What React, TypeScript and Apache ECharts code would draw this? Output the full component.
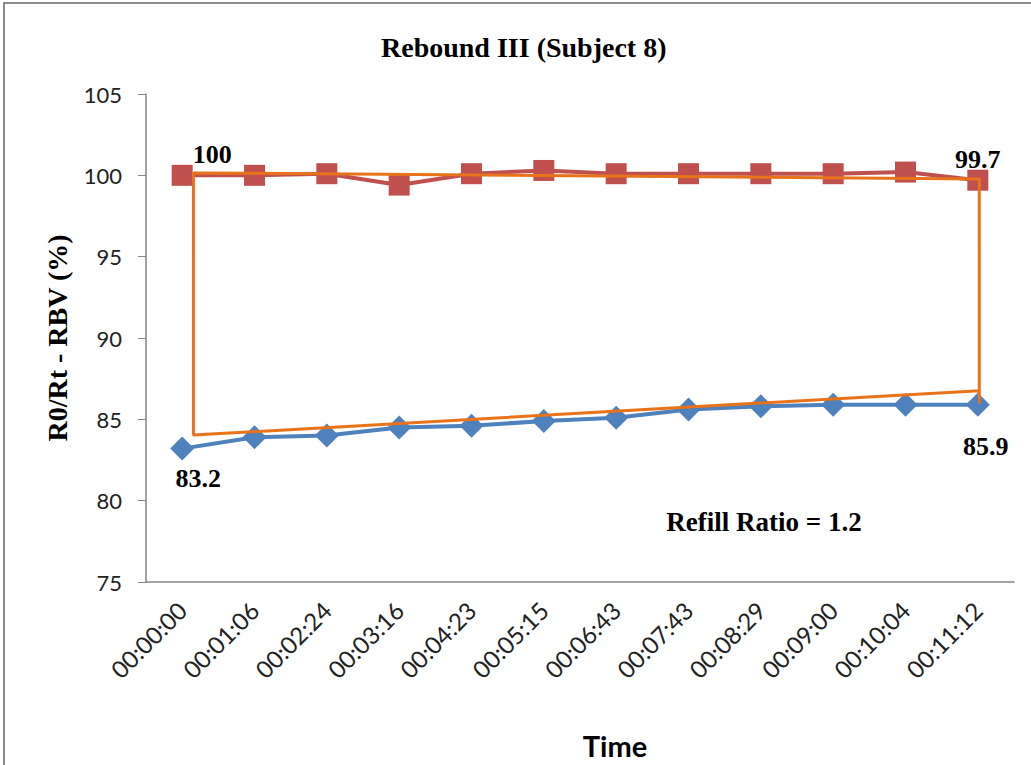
import React, { useEffect, useRef } from "react";
import * as echarts from "echarts";

const categories = [
  "00:00:00", "00:01:06", "00:02:24", "00:03:16", "00:04:23", "00:05:15",
  "00:06:43", "00:07:43", "00:08:29", "00:09:00", "00:10:04", "00:11:12",
];
const redValues = [100, 100, 100.1, 99.4, 100.1, 100.3, 100.1, 100.1, 100.1, 100.1, 100.2, 99.7];
const blueValues = [83.2, 83.9, 84.0, 84.5, 84.6, 84.9, 85.1, 85.6, 85.8, 85.9, 85.9, 85.9];
// hand-drawn orange outline, in [category position, value]
const orangeOutline: [number, number][] = [
  [11.02, 85.98],
  [11.02, 99.78],
  [0.156, 100.15],
  [0.156, 84.03],
  [11.02, 86.76],
];
const yTicks = { min: 75, max: 105, interval: 5 };
const titleText = "Rebound III (Subject 8)";
const yName = "R0/Rt - RBV (%)";
const xName = "Time";
const noteText = "Refill Ratio = 1.2";

const SERIF = "'Liberation Serif', 'DejaVu Serif', serif";
const SANS = "Lato, 'Open Sans', sans-serif";

export default function App() {
  const ref = useRef<HTMLDivElement>(null);
  useEffect(() => {
    if (!ref.current) return;
    const chart = echarts.init(ref.current, null, { renderer: "svg" });
    const labelStyle = { fontFamily: SERIF, fontWeight: "bold", fontSize: 26, color: "#000" };
    const redData = redValues.map((v, i) => {
      if (i === 0) return { value: v, label: { show: true, position: "inside", offset: [30, -21], ...labelStyle } };
      if (i === redValues.length - 1) return { value: v, label: { show: true, position: "inside", offset: [0, -21], ...labelStyle } };
      return v;
    });
    const blueData = blueValues.map((v, i) => {
      if (i === 0) return { value: v, label: { show: true, position: "inside", offset: [16, 30], ...labelStyle } };
      if (i === blueValues.length - 1) return { value: v, label: { show: true, position: "inside", offset: [8, 42], ...labelStyle } };
      return v;
    });
    chart.setOption({
      animation: false,
      backgroundColor: "#fff",
      title: {
        text: titleText,
        left: 376,
        top: 28,
        textStyle: { fontFamily: SERIF, fontWeight: "bold", fontSize: 28, color: "#000" },
      },
      grid: { left: 146, right: 17, top: 94, bottom: 183, containLabel: false },
      xAxis: [
        {
          type: "category",
          data: categories,
          boundaryGap: true,
          axisLine: { show: true, onZero: false, lineStyle: { color: "#868686", width: 1.5 } },
          axisTick: { show: false },
          axisLabel: {
            interval: 0,
            rotate: 45,
            margin: 24,
            fontFamily: SANS,
            fontSize: 24,
            color: "#222",
          },
          splitLine: { show: false },
        },
        {
          type: "value",
          min: -0.5,
          max: 11.5,
          show: false,
          splitLine: { show: false },
        },
      ],
      yAxis: {
        type: "value",
        min: yTicks.min,
        max: yTicks.max,
        interval: yTicks.interval,
        name: yName,
        nameLocation: "middle",
        nameGap: 75,
        nameTextStyle: { fontFamily: SERIF, fontWeight: "bold", fontSize: 28, color: "#000" },
        axisLine: { show: true, onZero: false, lineStyle: { color: "#868686", width: 1.5 } },
        axisTick: { show: true, inside: false, length: 8, lineStyle: { color: "#868686" } },
        axisLabel: { margin: 24, fontFamily: SANS, fontSize: 22, color: "#222" },
        splitLine: { show: false },
      },
      series: [
        {
          type: "line",
          data: blueData,
          xAxisIndex: 0,
          symbol: "diamond",
          symbolSize: 24,
          color: "#4F81BD",
          lineStyle: { color: "#4F81BD", width: 4 },
          itemStyle: { color: "#4F81BD" },
          z: 3,
        },
        {
          type: "line",
          data: redData,
          xAxisIndex: 0,
          symbol: "rect",
          symbolSize: 21,
          color: "#C0504D",
          lineStyle: { color: "#C0504D", width: 4 },
          itemStyle: { color: "#C0504D" },
          z: 3,
        },
        {
          type: "line",
          data: orangeOutline,
          xAxisIndex: 1,
          symbol: "none",
          lineStyle: { color: "#E8731A", width: 3 },
          z: 5,
          silent: true,
        },
      ],
      graphic: [
        {
          type: "rect",
          shape: { x: 4, y: 3, width: 1060, height: 800 },
          style: { fill: "none", stroke: "#8c8c8c", lineWidth: 2 },
          silent: true,
        },
        {
          type: "text",
          x: 764,
          y: 522,
          style: {
            text: noteText,
            fontFamily: SERIF,
            fontWeight: "bold",
            fontSize: 27,
            fill: "#000",
            align: "center",
            verticalAlign: "middle",
          },
        },
        {
          type: "text",
          x: 615,
          y: 745,
          style: {
            text: xName,
            fontFamily: SANS,
            fontWeight: "bold",
            fontSize: 29,
            fill: "#000",
            align: "center",
            verticalAlign: "middle",
          },
        },
      ],
    });
    return () => chart.dispose();
  }, []);
  return (
    <div
      ref={ref}
      style={{ position: "fixed", left: 0, top: 0, width: 1031, height: 765, background: "#fff" }}
    />
  );
}
